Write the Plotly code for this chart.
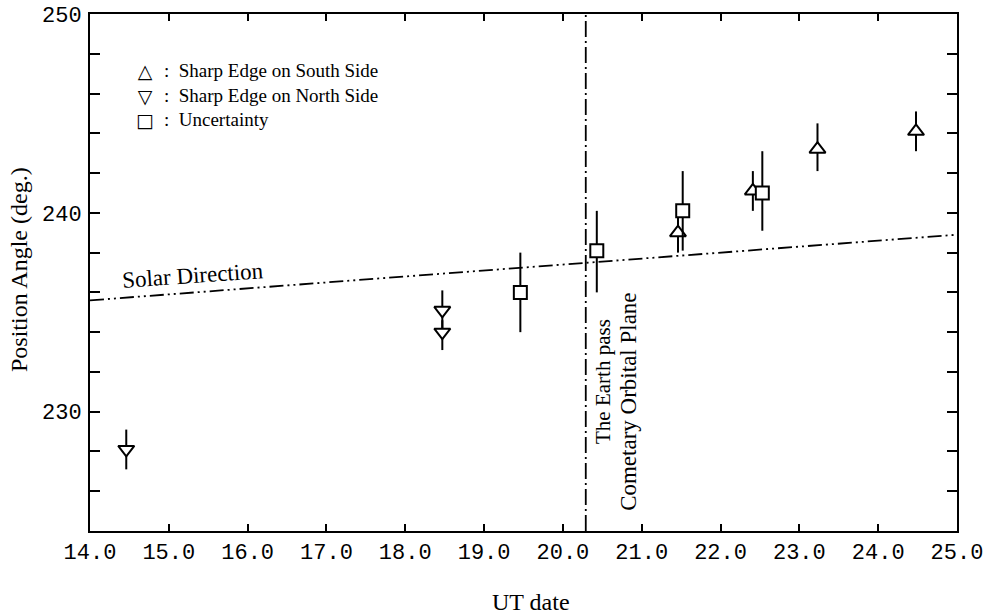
import plotly.graph_objects as go

# ---- data ----
south_x = [21.46, 22.41, 23.23, 24.48]
south_y = [239.0, 241.1, 243.2, 244.1]
south_up = [1.0, 1.0, 1.3, 1.0]
south_dn = [1.0, 1.0, 1.1, 1.0]

north_x = [14.46, 18.47, 18.47]
north_y = [228.1, 235.1, 234.0]
north_up = [1.0, 1.0, 0.6]
north_dn = [1.0, 1.0, 0.9]

unc_x = [19.46, 20.43, 21.52, 22.53]
unc_y = [236.0, 238.1, 240.1, 241.0]
unc_up = [2.0, 2.0, 2.0, 2.1]
unc_dn = [2.0, 2.1, 2.0, 1.9]

solar_x = [14.0, 25.0]
solar_y = [235.6, 238.9]

earth_pass_x = 20.29

x_ticks = [14, 15, 16, 17, 18, 19, 20, 21, 22, 23, 24, 25]
y_ticks = list(range(224, 251, 2))
y_labels = {230: "230", 240: "240", 250: "250"}

legend_symbols = ["△", "▽", "□"]
legend_texts = ["Sharp Edge on South Side", "Sharp Edge on North Side", "Uncertainty"]

SERIF = "Liberation Serif, Times New Roman, serif"
MONO = "Liberation Mono, Courier New, monospace"
SYM = "DejaVu Sans, sans-serif"

fig = go.Figure()

# solar direction line
fig.add_trace(go.Scatter(x=solar_x, y=solar_y, mode="lines",
                         line=dict(color="black", width=1.8, dash="14px,4px,2px,4px,2px,4px"),
                         showlegend=False, hoverinfo="skip"))
# earth passes cometary orbital plane
fig.add_trace(go.Scatter(x=[earth_pass_x, earth_pass_x], y=[224, 250], mode="lines",
                         line=dict(color="black", width=1.8, dash="16px,4px,2px,4px"),
                         showlegend=False, hoverinfo="skip"))

def err(up, dn):
    return dict(type="data", array=up, arrayminus=dn, symmetric=False,
                color="black", thickness=2, width=0)

fig.add_trace(go.Scatter(x=south_x, y=south_y, mode="markers", showlegend=False,
                         name=legend_texts[0],
                         marker=dict(symbol="triangle-up", size=14, color="white",
                                     line=dict(color="black", width=2)),
                         error_y=err(south_up, south_dn)))
fig.add_trace(go.Scatter(x=north_x, y=north_y, mode="markers", showlegend=False,
                         name=legend_texts[1],
                         marker=dict(symbol="triangle-down", size=14, color="white",
                                     line=dict(color="black", width=2)),
                         error_y=err(north_up, north_dn)))
fig.add_trace(go.Scatter(x=unc_x, y=unc_y, mode="markers", showlegend=False,
                         name=legend_texts[2],
                         marker=dict(symbol="square", size=13, color="white",
                                     line=dict(color="black", width=2)),
                         error_y=err(unc_up, unc_dn)))

# plot area on the page: x 90..957, y 14..531
PL, PR, PT, PB = 90, 957, 14, 531
def px(x):
    return (x - PL) / (PR - PL)
def py(y):
    return 1 - (y - PT) / (PB - PT)

NB = "\u00a0"
annos = [
    dict(x=15.31, y=236.87, text="Solar Direction", textangle=-4, showarrow=False,
         xanchor="center", yanchor="middle",
         font=dict(family=SERIF, size=23, color="black")),
    dict(x=20.51, y=231.5, text="The Earth pass", textangle=-90, showarrow=False,
         xanchor="center", yanchor="middle",
         font=dict(family=SERIF, size=21, color="black")),
    dict(x=20.84, y=230.5, text="Cometary Orbital Plane", textangle=-90, showarrow=False,
         xanchor="center", yanchor="middle",
         font=dict(family=SERIF, size=23, color="black")),
    dict(xref="paper", yref="paper", x=px(19), y=py(270), text="Position Angle (deg.)",
         textangle=-90, showarrow=False, xanchor="center", yanchor="middle",
         font=dict(family=SERIF, size=24, color="black")),
    dict(xref="paper", yref="paper", x=px(531), y=py(602), text="UT date",
         showarrow=False, xanchor="center", yanchor="middle",
         font=dict(family=SERIF, size=24, color="black")),
    # legend (symbol column + text column)
    dict(xref="paper", yref="paper", x=px(145), y=py(95), text="<br>".join(legend_symbols),
         showarrow=False, xanchor="center", yanchor="middle", align="center",
         font=dict(family=SYM, size=19, color="black")),
    dict(xref="paper", yref="paper", x=px(162), y=py(95),
         text="<br>".join(":" + NB + NB + t for t in legend_texts),
         showarrow=False, xanchor="left", yanchor="middle", align="left",
         font=dict(family=SERIF, size=19, color="black")),
]

W, H = 991, 614
fig.update_layout(
    width=W, height=H,
    margin=dict(l=PL, r=W - PR, t=PT, b=H - PB),
    paper_bgcolor="white", plot_bgcolor="white",
    font=dict(family=SERIF, color="black", size=18),
    annotations=annos,
    showlegend=False,
    xaxis=dict(range=[14, 25], tickvals=x_ticks, ticktext=[f"{v:.1f}" for v in x_ticks],
               ticks="inside", ticklen=7, tickwidth=1.5, tickcolor="black",
               showline=True, linecolor="black", linewidth=2, mirror="ticks",
               showgrid=False, zeroline=False, automargin=False,
               ticklabeloverflow="allow",
               tickfont=dict(family=MONO, size=22, color="black")),
    yaxis=dict(range=[224, 250], tickvals=y_ticks,
               ticktext=[y_labels.get(v, "") for v in y_ticks],
               ticks="inside", ticklen=10, tickwidth=1.5, tickcolor="black",
               showline=True, linecolor="black", linewidth=2, mirror="ticks",
               showgrid=False, zeroline=False, automargin=False,
               ticklabeloverflow="allow", ticklabelstandoff=2,
               tickfont=dict(family=MONO, size=22, color="black")),
)

# remove the default 8px page margin so the figure fills the window exactly
fig.write_html("out.html", config={"displayModeBar": False},
               post_script="document.body.style.margin='0';")
